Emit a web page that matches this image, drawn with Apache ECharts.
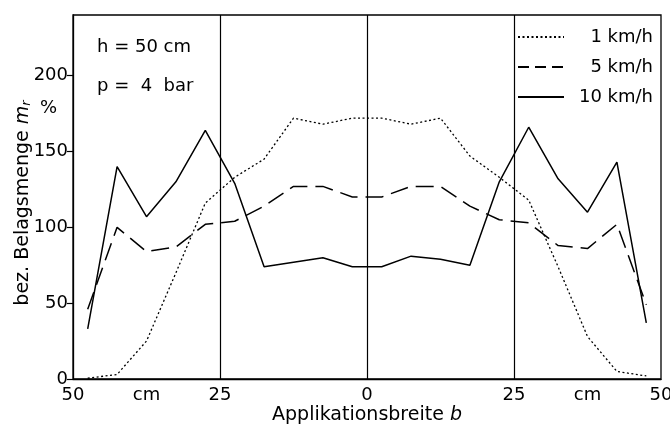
<!DOCTYPE html>
<html>
<head>
<meta charset="utf-8">
<script src="https://cdn.jsdelivr.net/npm/echarts@6/dist/echarts.min.js"></script>
<style>
  html, body { margin: 0; padding: 0; background: #fff; }
  #chart { width: 670px; height: 428px; }
</style>
</head>
<body>
<div id="chart"></div>
<script>
"use strict";
// Applikationsbreite b (cm), measured at 5 cm steps across the boom
var positions = [-47.5, -42.5, -37.5, -32.5, -27.5, -22.5, -17.5, -12.5, -7.5, -2.5,
                 2.5, 7.5, 12.5, 17.5, 22.5, 27.5, 32.5, 37.5, 42.5, 47.5];
var speed1 = [0.5, 3, 25, 70, 116, 133, 145, 172, 168, 172, 172, 168, 172, 147, 133, 118, 74, 28, 5, 2];
var speed5 = [46, 100, 84, 87, 102, 104, 114, 127, 127, 120, 120, 127, 127, 114, 105, 103, 88, 86, 102, 49];
var speed10 = [33, 140, 107, 130, 164, 129, 74, 77, 80, 74, 74, 81, 79, 75, 130, 166, 132, 110, 143, 37];
var seriesNames = ['1 km/h', '5 km/h', '10 km/h'];
var xTickValues = [-50, -37.5, -25, 0, 25, 37.5, 50];
var xTickLabels = ['50', 'cm', '25', '0', '25', 'cm', '50'];
var yTickValues = [0, 50, 100, 150, 200];

var font = 'DejaVu Sans';
var chart = echarts.init(document.getElementById('chart'));

function pairs(values) {
    return positions.map(function (x, i) { return [x, values[i]]; });
}

var option = {
    backgroundColor: '#fff',
    animation: false,
    textStyle: { fontFamily: font, color: '#000' },
    grid: {
        left: 73, right: 9, top: 15, bottom: 49,
        outerBoundsMode: 'none', containLabel: false,
        show: true, borderColor: '#000', borderWidth: 1.3
    },
    legend: {
        orient: 'vertical',
        right: 12, top: 23,
        itemWidth: 46, itemHeight: 18, itemGap: 12,
        data: [
            { name: seriesNames[0] },
            { name: seriesNames[1], lineStyle: { type: [11, 6] } },
            { name: seriesNames[2] }
        ],
        itemStyle: { opacity: 0 },
        formatter: function (name) { return '{t|' + name + '}'; },
        textStyle: {
            fontFamily: font, fontSize: 18, color: '#000',
            rich: { t: { width: 84, align: 'right', fontFamily: font, fontSize: 18, color: '#000' } }
        }
    },
    xAxis: {
        type: 'value', min: -50, max: 50,
        name: 'Applikationsbreite {i|b}',
        nameLocation: 'middle', nameGap: 27, nameMoveOverlap: false,
        nameTextStyle: {
            fontFamily: font, fontSize: 19, color: '#000',
            rich: { i: { fontStyle: 'italic', fontFamily: font, fontSize: 19, color: '#000' } }
        },
        axisLine: { lineStyle: { color: '#000', width: 1.3 } },
        axisTick: { show: false },
        splitLine: { show: false },
        axisLabel: {
            customValues: xTickValues,
            margin: 7, fontSize: 18, color: '#000', fontFamily: font,
            formatter: function (v) {
                var i = xTickValues.indexOf(v);
                return i >= 0 ? xTickLabels[i] : '';
            }
        }
    },
    yAxis: {
        type: 'value', min: 0, max: 240,
        name: 'bez. Belagsmenge {i|m}{s|r}',
        nameLocation: 'middle', nameGap: 40, nameRotate: 90, nameMoveOverlap: false,
        nameTextStyle: {
            fontFamily: font, fontSize: 19, color: '#000',
            padding: [0, 12, 0, 0],
            rich: {
                i: { fontStyle: 'italic', fontFamily: font, fontSize: 19, color: '#000' },
                s: { fontStyle: 'italic', fontFamily: font, fontSize: 13, color: '#000', verticalAlign: 'bottom', padding: [7, 0, 0, 0] }
            }
        },
        axisLine: { show: true, onZero: false, lineStyle: { color: '#000', width: 1.3 } },
        axisTick: { show: true, customValues: yTickValues, length: 6, lineStyle: { color: '#000', width: 1.2 } },
        splitLine: { show: false },
        axisLabel: {
            customValues: yTickValues,
            margin: 5, fontSize: 18, color: '#000', fontFamily: font
        }
    },
    graphic: [
        { type: 'text', left: 97, top: 38, style: { text: 'h = 50 cm', font: '18px "DejaVu Sans"', fill: '#000' } },
        { type: 'text', left: 97, top: 77, style: { text: 'p =  4  bar', font: '18px "DejaVu Sans"', fill: '#000' } },
        { type: 'text', left: 40, top: 99, style: { text: '%', font: '18px "DejaVu Sans"', fill: '#000' } }
    ],
    series: [
        {
            name: seriesNames[0], type: 'line', data: pairs(speed1),
            symbol: 'none', silent: true,
            lineStyle: { color: '#000', width: 1.3, type: [2, 2.5] },
            itemStyle: { color: '#000' },
            markLine: {
                silent: true, symbol: 'none',
                label: { show: false },
                lineStyle: { color: '#000', type: 'solid', width: 1.2 },
                data: [{ xAxis: -25 }, { xAxis: 0 }, { xAxis: 25 }]
            }
        },
        {
            name: seriesNames[1], type: 'line', data: pairs(speed5),
            symbol: 'none', silent: true,
            lineStyle: { color: '#000', width: 1.5, type: [18, 8] },
            itemStyle: { color: '#000' }
        },
        {
            name: seriesNames[2], type: 'line', data: pairs(speed10),
            symbol: 'none', silent: true,
            lineStyle: { color: '#000', width: 1.5, type: 'solid' },
            itemStyle: { color: '#000' }
        }
    ]
};
chart.setOption(option);
</script>
</body>
</html>
